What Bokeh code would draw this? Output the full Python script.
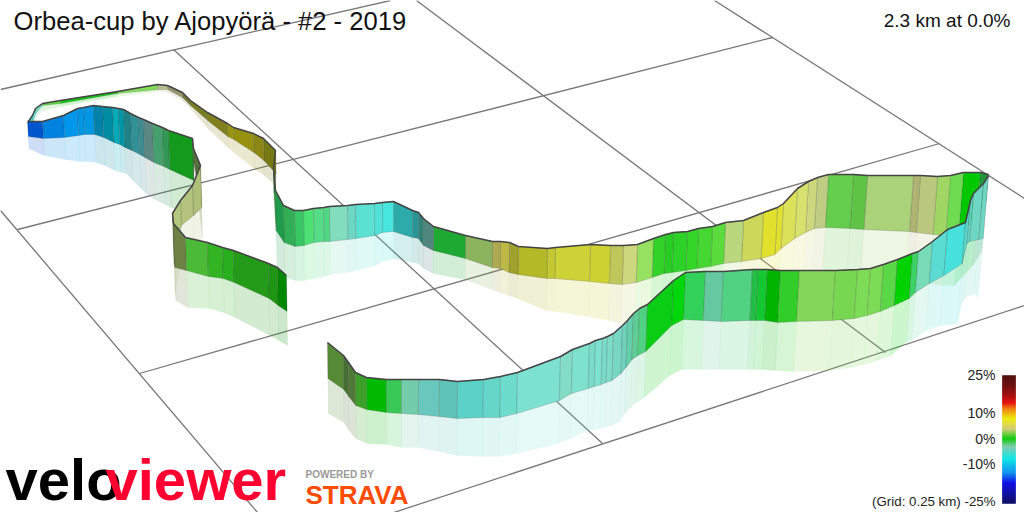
import numpy as np
from bokeh.plotting import figure
from bokeh.models import Range1d
from bokeh.core.properties import value
from bokeh.embed import file_html
from bokeh.resources import INLINE

title_text = "Orbea-cup by Ajopyörä - #2 - 2019"
summary_text = "2.3 km at 0.0%"
grade_labels = ["25%", "10%", "0%", "-10%"]
grade_label_y = [374, 412, 438, 463]
grid_note = "(Grid: 0.25 km) -25%"

# ground grid (x0, y0, x1, y1)
grid_x0 = [0, 17, 139, 372, 173, 0, 416, 714]
grid_y0 = [89, 229, 373, 519, 49, 210, 0, 0]
grid_x1 = [390, 772, 939, 1024, 602, 257, 885, 1024]
grid_y1 = [0, 37, 143, 305, 443, 512, 352, 198]

# far loop
far_x = [275, 273, 275, 263, 253, 233, 227, 207, 190, 182, 167, 157, 117, 60, 42, 35, 32, 28]
far_top = [190, 167, 150, 138, 133, 127, 123, 112, 100, 92, 85, 84, 91, 100, 103, 108, 115, 121]
far_wall = [230, 192, 173, 160, 152, 139, 136, 120, 105, 97, 89, 89, 93, 103, 105, 113, 121, 122]
far_shade = [240, 200, 185, 175, 168, 152, 147, 128, 108, 100, 92, 91, 96, 106, 110, 118, 126, 126]
far_col = ["#1ea028", "#50783c", "#787814", "#8c8714", "#96910f", "#9b960f", "#82801e", "#787d23", "#6e7832",
           "#96966e", "#b4be8c", "#82dc5a", "#14c814", "#5ad746", "#78e1b4", "#5ae1d2", "#46dcdc"]

# north leg, from the far right corner going west
north_x = [988, 980, 963, 950, 937, 920, 913, 867, 853, 828, 817, 808, 797, 783, 777, 763, 743, 725, 712, 698, 687,
           673, 665, 653, 637, 623, 610, 590, 555, 547, 518, 509, 500, 492, 465, 433, 423, 418, 412, 393, 382, 374,
           355, 347, 329, 323, 313, 303, 294, 283, 275]
north_top = [174, 172, 172, 175, 176, 175, 175, 175, 174, 174, 177, 181, 188, 203, 207, 212, 220, 222, 226, 228, 231,
             232, 234, 238, 244, 245, 245, 244, 247, 248, 246, 242, 241, 241, 235, 226, 218, 212, 210, 201, 202, 203,
             204, 205, 206, 207, 208, 210, 210, 205, 190]
north_wall = [200, 215, 235, 235, 234, 232, 231, 229, 228, 227, 228, 232, 238, 248, 254, 258, 261, 263, 266, 268, 270,
              272, 273, 277, 282, 284, 283, 281, 278, 278, 274, 272, 268, 267, 258, 250, 245, 238, 237, 231, 232, 235,
              238, 239, 241, 241, 242, 245, 246, 242, 230]
north_shade = [250, 265, 285, 285, 283, 280, 280, 278, 277, 277, 277, 280, 285, 296, 300, 306, 310, 312, 314, 315, 317,
               320, 322, 325, 326, 323, 320, 316, 311, 310, 298, 295, 292, 289, 279, 273, 268, 263, 262, 258, 261, 265,
               270, 272, 274, 276, 278, 280, 280, 277, 270]
north_col = ["#1e963c", "#00c800", "#6edc50", "#a0d764", "#b9c87d", "#afb473", "#aad278", "#5fc346", "#64cd4b", "#becd82",
             "#cdd77d", "#d7e16e", "#dce15a", "#e1e132", "#e1e12d", "#cdd75a", "#b9d77d", "#5adc3c", "#46d732", "#32d728",
             "#2dd228", "#28cd23", "#32d228", "#96e15f", "#cdd77d", "#bec85a", "#cdd232", "#cdd237", "#c3c832", "#b4b928",
             "#a0a02d", "#beb946", "#afaa50", "#8cb45f", "#1eaa32", "#50877d", "#328278", "#289696", "#2daaaa", "#46e6dc",
             "#50e1d7", "#5ae1d2", "#6ed7c3", "#82dcbe", "#50d782", "#55dc87", "#4be173", "#37c864", "#32af55", "#1e9b4b"]

# near left leg, from the western tip back east to the finish
near_x = [27, 42, 63, 77, 83, 93, 102, 112, 118, 123, 130, 138, 143, 152, 162, 168, 192, 193, 200, 192, 180, 172, 173,
          185, 207, 222, 233, 268, 277, 286]
near_top = [121, 121, 115, 108, 107, 105, 106, 107, 108, 109, 113, 117, 119, 123, 127, 130, 138, 148, 165, 185, 200,
            213, 223, 237, 242, 247, 250, 263, 267, 275]
near_wall = [136, 138, 137, 135, 134, 134, 137, 142, 144, 147, 150, 154, 157, 162, 166, 169, 180, 162, 207, 215, 225,
             263, 267, 270, 276, 278, 282, 298, 305, 311]
near_shade = [148, 155, 159, 161, 161, 162, 165, 170, 172, 173, 180, 188, 193, 199, 204, 207, 215, 165, 237, 245, 255,
              293, 300, 307, 308, 312, 317, 335, 340, 345]
near_col = ["#0055cd", "#0082e1", "#0096eb", "#0096e6", "#0096e1", "#0082aa", "#008ca0", "#00aab9", "#0096a5", "#1e8287",
            "#329196", "#3c8c91", "#5a8782", "#46a06e", "#329655", "#149b1e", "#465a32", "#55703c", "#aebf78", "#b4c37d",
            "#b4c87d", "#5f7832", "#6e8246", "#4bbb37", "#32b423", "#28af1e", "#239b19", "#1e9614", "#008700"]

# south leg, from the start going east to the far right corner
south_x = [327, 343, 348, 355, 366, 386, 401, 418, 439, 457, 483, 500, 517, 560, 572, 589, 595, 602, 607, 613, 622, 627,
           633, 639, 647, 673, 685, 705, 723, 752, 758, 767, 780, 799, 835, 857, 870, 883, 897, 912, 918, 932, 947, 965,
           970, 973, 983, 988]
south_top = [342, 355, 362, 372, 377, 379, 379, 379, 379, 381, 379, 376, 372, 356, 349, 343, 340, 338, 336, 333, 325, 320,
             313, 308, 304, 280, 272, 271, 271, 269, 269, 269, 270, 270, 270, 269, 268, 264, 259, 253, 251, 241, 229, 222,
             200, 193, 183, 175]
south_wall = [378, 389, 396, 405, 409, 412, 413, 414, 416, 418, 417, 417, 413, 400, 393, 388, 386, 384, 382, 380, 373, 367,
              359, 355, 351, 325, 319, 320, 321, 320, 320, 320, 322, 321, 320, 318, 315, 311, 305, 298, 292, 283, 275, 263,
              243, 241, 239, 238]
south_shade = [413, 422, 430, 438, 443, 444, 447, 447, 451, 455, 456, 456, 453, 443, 438, 430, 429, 428, 427, 425, 421, 413,
               407, 402, 397, 375, 369, 369, 369, 369, 369, 369, 370, 371, 370, 367, 364, 360, 355, 342, 340, 330, 325, 323,
               302, 298, 293, 297]
south_col = ["#558b37", "#466e32", "#507838", "#3ca028", "#00b900", "#37c855", "#73cdaa", "#69c8be", "#5fc3b9", "#5ad2c8",
             "#64d7c8", "#6edccd", "#7de1d2", "#82dcc8", "#7de1cd", "#78dcc8", "#7de1d2", "#78dcc8", "#7ddcc8", "#78d7c3",
             "#6ed2be", "#64cdaa", "#5ecd96", "#50d282", "#0ace14", "#00d70a", "#32d25a", "#64c8a0", "#50d282", "#23be46",
             "#14c832", "#00b400", "#32cd28", "#82d75a", "#78d750", "#7ddc55", "#7ddc55", "#5ad746", "#00d200", "#3cd264",
             "#78dcb9", "#5adcd2", "#46e1dc", "#5ad7cd", "#64d7c8", "#6ed7c3", "#6ed7c3"]

# colour scale
scale_y = [375, 385, 396, 402, 408, 418, 428, 438, 446, 458, 472, 482, 503]
scale_r = [70, 100, 170, 230, 240, 235, 210, 0, 120, 0, 0, 0, 0]
scale_g = [0, 0, 0, 0, 120, 235, 200, 200, 200, 230, 140, 0, 0]
scale_b = [0, 0, 0, 0, 0, 0, 110, 0, 170, 230, 240, 230, 90]

p = figure(width=1024, height=512, output_backend="svg", toolbar_location=None,
           x_range=Range1d(0, 1024), y_range=Range1d(512, 0), min_border=0)
p.axis.visible = False
p.grid.visible = False
p.outline_line_color = None
p.background_fill_color = "white"
p.border_fill_color = "white"

p.segment(grid_x0, grid_y0, grid_x1, grid_y1, line_color="#777777", line_width=1.3)


def lean(x, h):
    return x + (400 - x) * h / 7000.0


def ribbon(xs, top, wall, shade, cols):
    xs, top, wall, shade = map(lambda a: np.array(a, float), (xs, top, wall, shade))
    xw = lean(xs, wall - top)
    xg = lean(xs, shade - top)
    wx, wy, sx, sy = [], [], [], []
    for i in range(len(cols)):
        j = i + 1
        wx.append([xs[i], xs[j], xw[j], xw[i]])
        wy.append([top[i], top[j], wall[j], wall[i]])
        sx.append([xw[i], xw[j], xg[j], xg[i]])
        sy.append([wall[i], wall[j], shade[j], shade[i]])
    p.patches(sx, sy, fill_color=cols, fill_alpha=0.2, line_color=cols, line_alpha=0.05, line_width=0.7)
    p.patches(wx, wy, fill_color=cols, fill_alpha=1.0, line_color="#222222", line_alpha=0.22, line_width=0.8)
    p.line(xs, top, line_color="#444444", line_width=1.5, line_join="round")


ribbon(far_x, far_top, far_wall, far_shade, far_col)
ribbon(north_x, north_top, north_wall, north_shade, north_col)
ribbon(near_x, near_top, near_wall, near_shade, near_col)
ribbon(south_x, south_top, south_wall, south_shade, south_col)

# colour scale bar
rows = np.arange(scale_y[0], scale_y[-1])
rr = np.interp(rows, scale_y, scale_r).astype(int)
gg = np.interp(rows, scale_y, scale_g).astype(int)
bb = np.interp(rows, scale_y, scale_b).astype(int)
bar_cols = ["#%02x%02x%02x" % c for c in zip(rr, gg, bb)]
p.quad(left=1002, right=1015, top=rows, bottom=rows + 1,
       fill_color=bar_cols, fill_alpha=1.0, line_color=bar_cols, line_alpha=1.0, line_width=0.5)

FONT = value("Liberation Sans")
p.text([13], [20], text=[title_text], text_font=FONT, text_font_size="25.6px", text_color="#111111",
       text_baseline="middle", text_align="left")
p.text([1010], [20], text=[summary_text], text_font=FONT, text_font_size="19px", text_color="#111111",
       text_baseline="middle", text_align="right")
p.text([995] * 4, grade_label_y, text=grade_labels, text_font=FONT, text_font_size="14px",
       text_color="#222222", text_baseline="middle", text_align="right")
p.text([995], [501], text=[grid_note], text_font=FONT, text_font_size="13.3px",
       text_color="#222222", text_baseline="middle", text_align="right")

# logos
p.text([5], [479.4], text=["velo"], text_font=FONT, text_font_style="bold", text_font_size="58px",
       text_color="#000000", text_baseline="middle", text_align="left")
p.text([105], [479.4], text=["viewer"], text_font=FONT, text_font_style="bold", text_font_size="58px",
       text_color="#ff0030", text_baseline="middle", text_align="left")
p.text([305], [473.5], text=["POWERED BY"], text_font=FONT, text_font_style="bold", text_font_size="10px",
       text_color="#999999", text_baseline="middle", text_align="left")
p.text([305], [494.5], text=["STRAVA"], text_font=FONT, text_font_style="bold", text_font_size="26px",
       text_color="#fc4c02", text_baseline="middle", text_align="left")

open("out.html", "w").write(file_html(p, INLINE))
